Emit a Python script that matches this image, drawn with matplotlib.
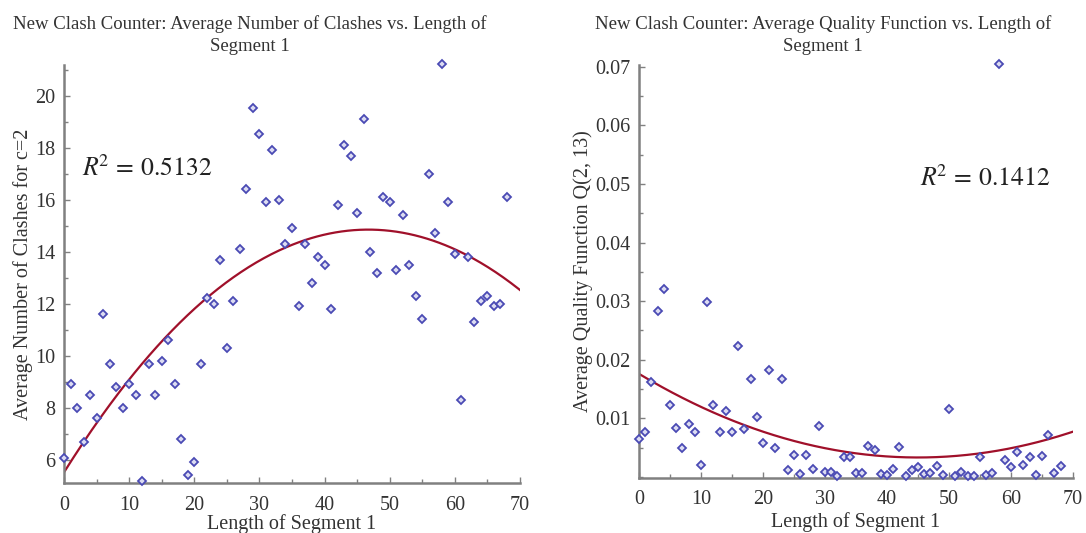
import numpy as np
import matplotlib
matplotlib.use("Agg")
import matplotlib.pyplot as plt
from matplotlib.ticker import MultipleLocator

plt.rcParams['font.family'] = ['Liberation Serif', 'DejaVu Serif']
plt.rcParams['mathtext.fontset'] = 'stix'

seg_len = list(range(0, 69))

clashes = [6.11, 8.93, 8.02, 6.71, 8.52, 7.62, 11.62, 9.72, 8.82, 8.02,
           8.93, 8.52, 5.22, 9.72, 8.52, 9.82, 10.63, 8.93, 6.82, 5.42,
           5.92, 9.72, 12.23, 12.02, 13.72, 10.32, 12.12, 14.12, 16.42, 19.53,
           18.53, 15.92, 17.93, 16.02, 14.32, 14.92, 11.93, 14.32, 12.83, 13.82,
           13.53, 11.83, 15.83, 18.13, 17.72, 15.52, 19.13, 14.03, 13.22, 16.13,
           15.92, 13.32, 15.42, 13.53, 12.33, 11.42, 17.02, 14.73, 21.24, 15.92,
           13.93, 8.32, 13.82, 11.33, 12.12, 12.33, 11.93, 12.02, 16.13]

quality = [0.0064, 0.0077, 0.0162, 0.0283, 0.0321, 0.0122, 0.0084, 0.0050, 0.0091, 0.0077,
           0.0021, 0.0298, 0.0122, 0.0077, 0.0113, 0.0077, 0.0224, 0.0082, 0.0167, 0.0102,
           0.0058, 0.0182, 0.0049, 0.0167, 0.0011, 0.0038, 0.0004, 0.0037, 0.0013, 0.0086,
           0.0009, 0.0009, 0.0001, 0.0033, 0.0033, 0.0006, 0.0007, 0.0052, 0.0046, 0.0004,
           0.0003, 0.0013, 0.0051, 0.0001, 0.0012, 0.0016, 0.0004, 0.0007, 0.0018, 0.0003,
           0.0115, 0.0001, 0.0009, 0.0001, 0.0001, 0.0034, 0.0003, 0.0006, 0.0705, 0.0028,
           0.0016, 0.0043, 0.0021, 0.0033, 0.0003, 0.0036, 0.0071, 0.0007, 0.0018]

# quadratic fit coefficients (highest power first)
clash_fit = [-0.004278, 0.3996, 5.54]
quality_fit = [7.05e-6, -6.345e-4, 0.01758]

r2_labels = ["0.5132", "0.1412"]
titles = ["New Clash Counter: Average Number of Clashes vs. Length of\nSegment 1",
          "New Clash Counter: Average Quality Function vs. Length of\nSegment 1"]
ylabels = ["Average Number of Clashes for c=2", "Average Quality Function Q(2, 13)"]
xlabel = "Length of Segment 1"

spine_c = '#808080'
text_c = '#333333'
pt_edge = '#4a4ab4'
pt_face = '#dcdcf2'
curve_c = '#a0102a'

fig = plt.figure(figsize=(10.86, 5.33), dpi=100)
ax1 = fig.add_axes([64/1086, 50/533, (520-64)/1086, (483-65)/533])
ax2 = fig.add_axes([639/1086, 55/533, (1073-639)/1086, (478-65)/533])

xs = np.linspace(0, 70, 300)

def style(ax):
    for s in ['top', 'right']:
        ax.spines[s].set_visible(False)
    for s in ['left', 'bottom']:
        ax.spines[s].set_color(spine_c)
        ax.spines[s].set_linewidth(1.8)
    ax.tick_params(which='both', direction='in', colors=spine_c, labelcolor=text_c,
                   labelsize=14.5, pad=6)
    ax.tick_params(axis='x', which='both', pad=9)
    ax.tick_params(which='major', length=4, width=1)
    ax.tick_params(which='minor', length=3, width=1)
    ax.set_xlim(0, 70)
    ax.xaxis.set_major_locator(MultipleLocator(10))
    ax.xaxis.set_minor_locator(MultipleLocator(5))

style(ax1)
ax1.plot(xs, np.polyval(clash_fit, xs), color=curve_c, lw=1.6, zorder=2)
ax1.plot(seg_len, clashes, linestyle='none', marker='D', ms=4.2, mew=1.3,
         mec=pt_edge, mfc=pt_face, zorder=3, clip_on=False)
ax1.set_ylim(5.13, 21.2)
ax1.yaxis.set_major_locator(MultipleLocator(2))
ax1.yaxis.set_minor_locator(MultipleLocator(1))
ax1.set_ylabel(ylabels[0], fontsize=14.5, color=text_c, labelpad=2)
ax1.set_xlabel(xlabel, fontsize=14.5, color=text_c, labelpad=0)
ax1.text(82/1086, 1 - 168/533, r'$R^{\!2}\,=\,$' + r'$0.5132$', transform=fig.transFigure,
         fontsize=18.5, color='#222222', va='center', ha='left')

style(ax2)
ax2.plot(xs, np.polyval(quality_fit, xs), color=curve_c, lw=1.6, zorder=2)
ax2.plot(seg_len, quality, linestyle='none', marker='D', ms=4.2, mew=1.3,
         mec=pt_edge, mfc=pt_face, zorder=3, clip_on=False)
ax2.set_ylim(-0.0002, 0.0703)
ax2.set_yticks([0.01, 0.02, 0.03, 0.04, 0.05, 0.06, 0.07])
ax2.yaxis.set_minor_locator(MultipleLocator(0.005))
ax2.set_ylabel(ylabels[1], fontsize=14.5, color=text_c, labelpad=2)
ax2.set_xlabel(xlabel, fontsize=14.5, color=text_c, labelpad=2)
ax2.text(920/1086, 1 - 178/533, r'$R^{\!2}\,=\,$' + r'$0.1412$', transform=fig.transFigure,
         fontsize=18.5, color='#222222', va='center', ha='left')

fig.text(250/1086, 1 - 35/533, titles[0], ha='center', va='center', fontsize=13.5,
         color=text_c, linespacing=1.45)
fig.text(823/1086, 1 - 35/533, titles[1], ha='center', va='center', fontsize=13.5,
         color=text_c, linespacing=1.45)

fig.savefig('out.png', dpi=100, facecolor='white')
